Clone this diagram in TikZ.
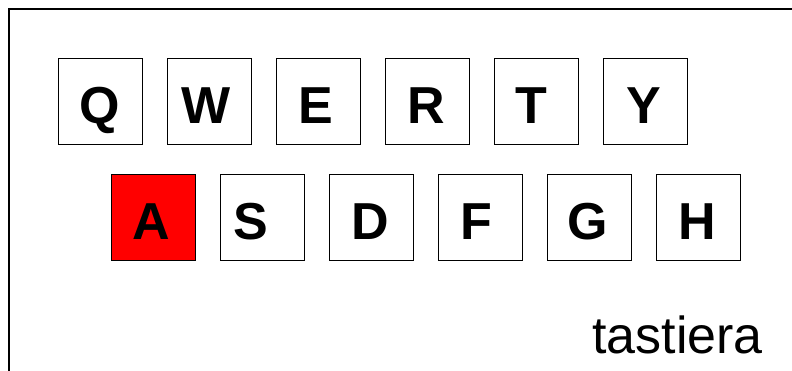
\documentclass[tikz,border=0pt]{standalone}
\usepackage{fontspec}
\setmainfont{Liberation Sans}
\newcommand{\kshift}[2]{\hspace*{-#1pt}#2}
\begin{document}
\begin{tikzpicture}[x=1pt,y=-1pt,
  keybox/.style={draw=black,line width=1.3pt,minimum width=84pt,minimum height=86pt,inner sep=0pt,text height=44pt,text depth=0pt,font=\fontsize{52}{52}\selectfont\bfseries,anchor=north west},
  keyred/.style={keybox,fill=red}]
\useasboundingbox (0,0) rectangle (792,370);
\draw[line width=2pt] (9,375) -- (9,9) -- (800,9);
\node[keybox] (q) at (58,58) {\kshift{2}{Q}};
\node[keybox] (w) at (167,58) {\kshift{8}{W}};
\node[keybox] (e) at (276,58) {\kshift{5}{E}};
\node[keybox] (r) at (385,58) {\kshift{3}{R}};
\node[keybox] (t) at (494,58) {\kshift{10}{T}};
\node[keybox] (y) at (603,58) {\kshift{4}{Y}};
\node[keyred] (a) at (111,174) {\kshift{5}{A}};
\node[keybox] (s) at (220,174) {\kshift{23}{S}};
\node[keybox] (d) at (329,174) {\kshift{2}{D}};
\node[keybox] (f) at (438,174) {\kshift{8}{F}};
\node[keybox] (g) at (547,174) {\kshift{4}{G}};
\node[keybox] (h) at (656,174) {\kshift{2}{H}};
\node[anchor=base west,inner sep=0pt,font=\fontsize{52}{52}\selectfont] (lbl) at (592,353) {tastiera};
\end{tikzpicture}
\end{document}
